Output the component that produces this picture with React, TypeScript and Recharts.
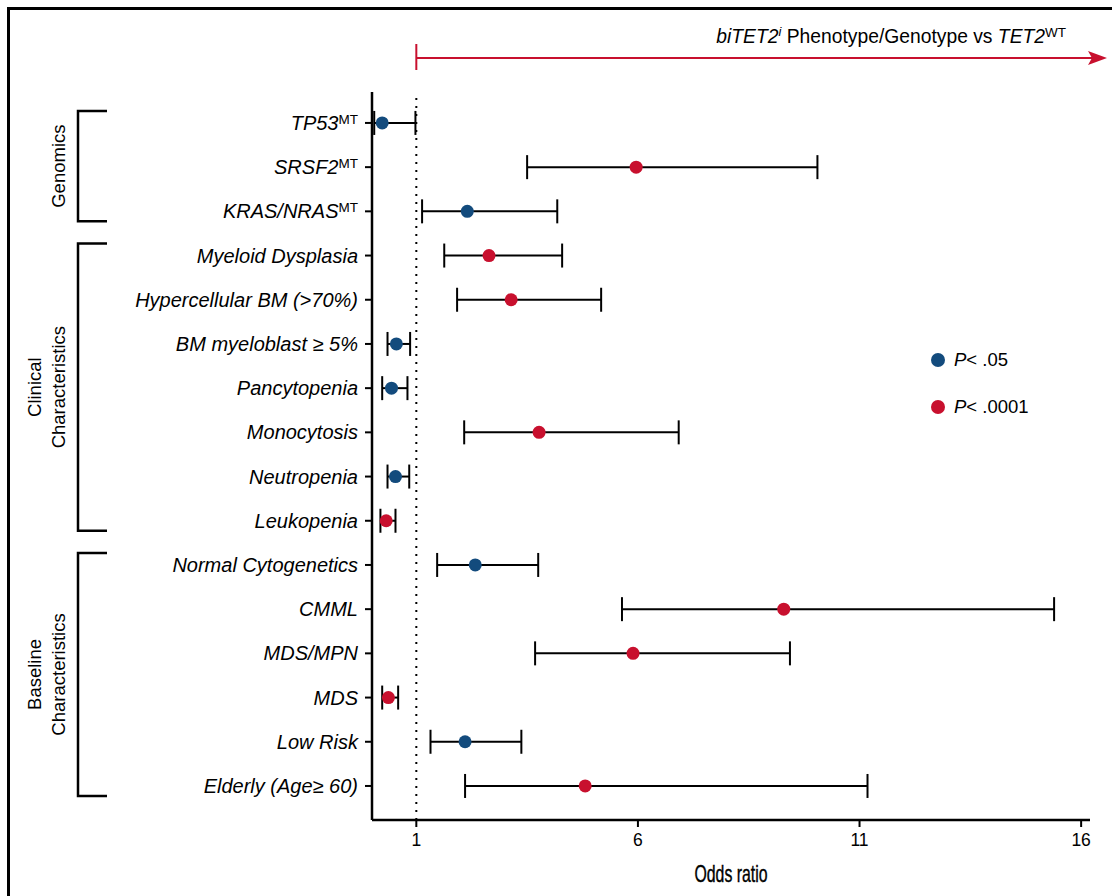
import { ScatterChart, Scatter, XAxis, YAxis, ErrorBar, ReferenceLine, Legend } from "recharts";

// rows, top to bottom
const rowLabels = [
  "TP53", "SRSF2", "KRAS/NRAS", "Myeloid Dysplasia", "Hypercellular BM (>70%)",
  "BM myeloblast \u2265 5%", "Pancytopenia", "Monocytosis", "Neutropenia", "Leukopenia",
  "Normal Cytogenetics", "CMML", "MDS/MPN", "MDS", "Low Risk", "Elderly (Age\u2265 60)",
];
const rowSup = ["MT", "MT", "MT", "", "", "", "", "", "", "", "", "", "", "", "", ""];
const oddsRatio = [0.23, 5.96, 2.15, 2.64, 3.14, 0.55, 0.44, 3.77, 0.53, 0.32, 2.33, 9.29, 5.89, 0.37, 2.1, 4.81];
const ciLow = [0.05, 3.5, 1.13, 1.63, 1.92, 0.35, 0.23, 2.08, 0.35, 0.19, 1.47, 5.64, 3.68, 0.23, 1.32, 2.1];
const ciHigh = [0.98, 10.05, 4.18, 4.29, 5.17, 0.86, 0.8, 6.92, 0.84, 0.53, 3.75, 15.39, 9.43, 0.59, 3.37, 11.18];
const pLevel = ["p05", "p0001", "p05", "p0001", "p0001", "p05", "p05", "p0001", "p05", "p0001", "p05", "p0001", "p0001", "p0001", "p05", "p0001"];

const groupLines = [["Genomics"], ["Clinical", "Characteristics"], ["Baseline", "Characteristics"]];
const groupFrom = [0, 3, 10];
const groupTo = [2, 9, 15];

const xTicks = [1, 6, 11, 16];
const legendKeys = ["p05", "p0001"];
const legendText = [".05", ".0001"];

const COLORS: Record<string, string> = { p05: "#134B7D", p0001: "#C8102E" };
const FONT = "'Liberation Sans', Arial, Helvetica, sans-serif";
const RED = "#C8102E";

const W = 1112, H = 896;
const M = { top: 92, right: 22, bottom: 16, left: 72 };
const Y_AXIS_W = 300, X_AXIS_H = 60;
const PLOT_TOP = M.top, PLOT_BOTTOM = H - M.bottom - X_AXIS_H;
const PLOT_LEFT = M.left + Y_AXIS_W, PLOT_RIGHT = W - M.right;
const Y_DOMAIN: [number, number] = [-0.7, 15.77];
const X_DOMAIN: [number, number] = [0, 16.2];

const rowY = (i: number) => PLOT_TOP + ((i - Y_DOMAIN[0]) / (Y_DOMAIN[1] - Y_DOMAIN[0])) * (PLOT_BOTTOM - PLOT_TOP);
const valX = (v: number) => PLOT_LEFT + ((v - X_DOMAIN[0]) / (X_DOMAIN[1] - X_DOMAIN[0])) * (PLOT_RIGHT - PLOT_LEFT);

const rows = rowLabels.map((name, i) => ({
  row: i,
  name,
  or: oddsRatio[i],
  err: [oddsRatio[i] - ciLow[i], ciHigh[i] - oddsRatio[i]],
  p: pLevel[i],
}));

const RowTick = ({ x, y, payload }: any) => {
  const i = payload.value;
  return (
    <text x={x} y={y} dy={7} textAnchor="end" fontSize={20} fontFamily={FONT} fill="#000">
      <tspan fontStyle="italic">{rowLabels[i]}</tspan>
      {rowSup[i] ? <tspan dy={-6} fontSize={13.5}>{rowSup[i]}</tspan> : null}
    </text>
  );
};

// condensed axis title
const AxisTitle = ({ viewBox }: any) => {
  const cx = viewBox.x + viewBox.width / 2;
  return (
    <text transform={`translate(${cx},882) scale(0.66,1)`} textAnchor="middle" fontSize={24}
      fontFamily={FONT} fill="#000" stroke="#000" strokeWidth={0.4}>
      Odds ratio
    </text>
  );
};

const Dot = (props: any) => <circle cx={props.cx} cy={props.cy} r={6.5} fill={COLORS[props.payload.p]} />;

const LegendBox = () => (
  <div style={{ fontFamily: FONT, fontSize: 18.5, color: "#000" }}>
    {legendKeys.map((k, i) => (
      <div key={k} style={{ display: "flex", alignItems: "center", height: 24, marginBottom: 23 }}>
        <span style={{ width: 14, height: 14, borderRadius: 7, background: COLORS[k], marginRight: 9 }} />
        <span><i>P</i>&lt; {legendText[i]}</span>
      </div>
    ))}
  </div>
);

export default function App() {
  return (
    <div style={{ position: "absolute", left: 0, top: 0, width: W, height: H, overflow: "hidden", background: "#fff" }}>
      <div style={{ position: "absolute", left: 7, top: 7, width: W, height: H, borderLeft: "3px solid #000", borderTop: "3px solid #000" }} />
      <div style={{ position: "absolute", left: 0, top: 0 }}>
        <ScatterChart width={W} height={H} margin={M}>
          <XAxis
            type="number"
            dataKey="or"
            domain={X_DOMAIN}
            ticks={xTicks}
            interval={0}
            height={X_AXIS_H}
            tickSize={7}
            tickMargin={7}
            axisLine={{ stroke: "#000", strokeWidth: 2.5 }}
            tickLine={{ stroke: "#000", strokeWidth: 2 }}
            tick={{ fill: "#000", fontSize: 17.5, fontFamily: FONT }}
            label={<AxisTitle />}
          />
          <YAxis
            type="number"
            dataKey="row"
            domain={Y_DOMAIN}
            reversed
            allowDataOverflow
            ticks={rows.map((r) => r.row)}
            interval={0}
            width={Y_AXIS_W}
            tickSize={7}
            tickMargin={7}
            axisLine={{ stroke: "#000", strokeWidth: 2.5 }}
            tickLine={{ stroke: "#000", strokeWidth: 2 }}
            tick={<RowTick />}
          />
          <ReferenceLine x={1} stroke="#000" strokeWidth={2} strokeDasharray="2 6" />
          <Scatter data={rows} shape={<Dot />} isAnimationActive={false}>
            <ErrorBar dataKey="err" direction="x" width={12} stroke="#000" strokeWidth={2} />
          </Scatter>
          <Legend
            layout="vertical"
            align="center"
            verticalAlign="middle"
            content={<LegendBox />}
            wrapperStyle={{ position: "absolute", left: 931, top: 348, width: 160, height: 90 }}
          />
        </ScatterChart>
      </div>
      <svg width={W} height={H} style={{ position: "absolute", left: 0, top: 0, pointerEvents: "none" }}>
        {/* direction arrow */}
        <line x1={valX(1)} y1={44} x2={valX(1)} y2={70} stroke={RED} strokeWidth={2} />
        <line x1={valX(1)} y1={58} x2={1092} y2={58} stroke={RED} strokeWidth={2} />
        <polygon points="1088,51 1107,58 1088,65 1092,58" fill={RED} />
        <text x={1066} y={43} textAnchor="end" fontSize={19.3} fontFamily={FONT} fill="#000">
          <tspan fontStyle="italic">biTET2</tspan>
          <tspan fontStyle="italic" fontSize={13} dy={-7}>i</tspan>
          <tspan dy={7}> Phenotype/Genotype vs </tspan>
          <tspan fontStyle="italic">TET2</tspan>
          <tspan fontSize={13.5} dy={-6}>WT</tspan>
        </text>
        {/* group brackets */}
        {groupLines.map((lines, g) => {
          const y1 = rowY(groupFrom[g]) - 12;
          const y2 = rowY(groupTo[g]) + 10;
          const cy = (y1 + y2) / 2;
          return (
            <g key={g}>
              <path d={`M107,${y1} H78 V${y2} H107`} fill="none" stroke="#000" strokeWidth={2.5} />
              {lines.map((t, k) => {
                const lx = 65 - (lines.length - 1 - k) * 24;
                return (
                  <text key={k} x={lx} y={cy} transform={`rotate(-90 ${lx} ${cy})`} textAnchor="middle"
                    fontSize={18.5} fontFamily={FONT} fill="#000">
                    {t}
                  </text>
                );
              })}
            </g>
          );
        })}
      </svg>
    </div>
  );
}
